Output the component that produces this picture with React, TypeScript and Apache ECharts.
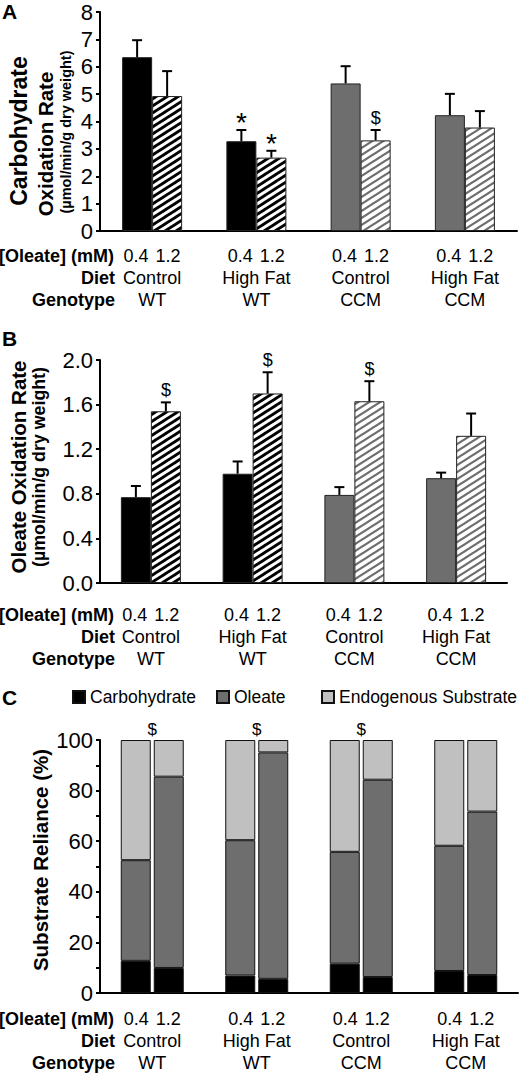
import React, { useEffect, useRef } from "react";
import * as echarts from "echarts";

const FONT = "'Liberation Sans', Arial, Helvetica, sans-serif";

// Categories
const oleateConc = ["0.4", "1.2"];
const diets = ["Control", "High Fat", "Control", "High Fat"];
const genotypes = ["WT", "WT", "CCM", "CCM"];
const groupKeys = ["Control WT", "High Fat WT", "Control CCM", "High Fat CCM"];

// Panel A: carbohydrate oxidation rate (µmol/min/g dry weight)
const carbMean04 = [6.35, 3.28, 5.39, 4.23];
const carbErr04 = [0.62, 0.41, 0.63, 0.78];
const carbMean12 = [4.93, 2.68, 3.31, 3.78];
const carbErr12 = [0.91, 0.25, 0.38, 0.6];
const carbSig04 = ["", "*", "", ""];
const carbSig12 = ["", "*", "$", ""];
const carbTicks = [0, 8, 1];

// Panel B: oleate oxidation rate
const oleMean04 = [0.77, 0.98, 0.79, 0.94];
const oleErr04 = [0.1, 0.11, 0.07, 0.05];
const oleMean12 = [1.54, 1.7, 1.63, 1.32];
const oleErr12 = [0.08, 0.19, 0.18, 0.2];
const oleSig04 = ["", "", "", ""];
const oleSig12 = ["$", "$", "$", ""];
const oleTicks = [0, 2, 0.4];

// Panel C: substrate reliance (%)
const substrates = ["Carbohydrate", "Oleate", "Endogenous Substrate"];
const relCarb04 = [12.7, 6.9, 11.6, 8.7];
const relOle04 = [39.8, 53.5, 44.2, 49.5];
const relEndo04 = [47.5, 39.6, 44.2, 41.8];
const relCarb12 = [9.9, 5.6, 6.3, 7.1];
const relOle12 = [75.6, 89.5, 78.0, 64.6];
const relEndo12 = [14.5, 4.9, 15.7, 28.3];
const relSig = ["$", "$", "$", ""];
const relTicks = [0, 100, 10];

const BAR_W = 30;
const WT_COLOR = "#000000";
const CCM_COLOR = "#6e6e6e";
const SUB_COLORS = ["#000000", "#6e6e6e", "#c0c0c0"];

function makeHatch(stripe: string, lw: number) {
  const w = 11;
  const h = 7;
  const c = document.createElement("canvas");
  c.width = w;
  c.height = h;
  const ctx = c.getContext("2d")!;
  ctx.fillStyle = "#ffffff";
  ctx.fillRect(0, 0, w, h);
  ctx.strokeStyle = stripe;
  ctx.lineWidth = lw;
  for (let n = -1; n <= 1; n++) {
    ctx.beginPath();
    ctx.moveTo(-2, h + n * h + (2 * h) / w);
    ctx.lineTo(w + 2, n * h - (2 * h) / w);
    ctx.stroke();
  }
  return { image: c, repeat: "repeat" };
}

function App() {
  const ref = useRef<HTMLDivElement>(null);

  useEffect(() => {
    document.body.style.margin = "0";
    const chart = echarts.init(ref.current!, null, { renderer: "svg" });

    const hatchBlack = makeHatch("#000000", 2.8);
    const hatchGray = makeHatch("#6e6e6e", 2.2);

    const solid = (i: number) => (genotypes[i] === "WT" ? WT_COLOR : CCM_COLOR);
    const hatch = (i: number) => (genotypes[i] === "WT" ? hatchBlack : hatchGray);

    const catLabel = (margin: number) => ({
      interval: 0,
      margin,
      color: "#000",
      fontFamily: FONT,
      formatter: (_v: string, idx: number) =>
        `{n|${oleateConc[0]}}{g|}{n|${oleateConc[1]}}\n{t|${diets[idx]}}\n{t|${genotypes[idx]}}`,
      rich: {
        n: { fontSize: 18, lineHeight: 22, fontFamily: FONT, color: "#000" },
        g: { width: 7 },
        t: { fontSize: 18, lineHeight: 22, fontFamily: FONT, color: "#000" },
      },
    });

    const xAx = (gridIndex: number, margin: number) => ({
      type: "category",
      gridIndex,
      data: groupKeys,
      axisLine: { show: true, lineStyle: { color: "#000", width: 2 } },
      axisTick: { show: false },
      axisLabel: catLabel(margin),
    });

    const yAx = (gridIndex: number, t: number[], fmt: (v: number) => string) => ({
      type: "value",
      gridIndex,
      min: t[0],
      max: t[1],
      interval: t[2],
      axisLine: { show: true, lineStyle: { color: "#000", width: 2 } },
      axisTick: { show: true, length: 4, lineStyle: { color: "#000", width: 2 } },
      splitLine: { show: false },
      axisLabel: { fontSize: 22, color: "#000", fontFamily: FONT, margin: 7, formatter: fmt },
    });

    const errSeries = (
      axis: number,
      means: number[],
      errs: number[],
      sigs: string[],
      offset: number
    ) => ({
      type: "custom",
      xAxisIndex: axis,
      yAxisIndex: axis,
      coordinateSystem: "cartesian2d",
      encode: { x: 0, y: 1 },
      z: 5,
      data: means.map((m, i) => [i, m, errs[i]]),
      renderItem: (params: any, api: any) => {
        const i = api.value(0);
        const v = api.value(1);
        const e = api.value(2);
        const b = api.coord([i, v]);
        const t = api.coord([i, v + e]);
        const x = b[0] + offset;
        const sig = sigs[params.dataIndex];
        const children: any[] = [
          { type: "line", shape: { x1: x, y1: b[1], x2: x, y2: t[1] }, style: { stroke: "#000", lineWidth: 2 } },
          { type: "line", shape: { x1: x - 5, y1: t[1], x2: x + 5, y2: t[1] }, style: { stroke: "#000", lineWidth: 2 } },
        ];
        if (sig) {
          const star = sig === "*";
          children.push({
            type: "text",
            x,
            y: star ? t[1] + 7 : t[1] - 3,
            style: {
              text: sig,
              fontSize: star ? 28 : 18,
              fontFamily: FONT,
              fill: "#000",
              align: "center",
              verticalAlign: "bottom",
              textAlign: "center",
              textVerticalAlign: "bottom",
            },
          });
        }
        return { type: "group", children };
      },
    });

    const barPair = (axis: number, m04: number[], m12: number[]) => [
      {
        type: "bar",
        name: oleateConc[0],
        xAxisIndex: axis,
        yAxisIndex: axis,
        barWidth: BAR_W,
        barGap: "0%",
        itemStyle: { borderColor: "#222", borderWidth: 1 },
        data: m04.map((v, i) => ({ value: v, itemStyle: { color: solid(i) } })),
      },
      {
        type: "bar",
        name: oleateConc[1],
        xAxisIndex: axis,
        yAxisIndex: axis,
        barWidth: BAR_W,
        barGap: "0%",
        itemStyle: { borderColor: "#222", borderWidth: 1 },
        data: m12.map((v, i) => ({ value: v, itemStyle: { color: hatch(i) } })),
      },
    ];

    const stackSeries = (stack: string, arrs: number[][]) =>
      arrs.map((arr, k) => ({
        type: "bar",
        name: substrates[k],
        stack,
        xAxisIndex: 2,
        yAxisIndex: 2,
        barWidth: BAR_W,
        barGap: "10%",
        itemStyle: { color: SUB_COLORS[k], borderColor: "#111", borderWidth: 1 },
        data: arr,
      }));

    const txt = (
      text: string,
      x: number,
      y: number,
      size: number,
      bold: boolean,
      align: string,
      rotate = false
    ) => ({
      type: "text",
      x,
      y,
      rotation: rotate ? Math.PI / 2 : 0,
      style: {
        text,
        fontSize: size,
        fontWeight: bold ? "bold" : "normal",
        fontFamily: FONT,
        fill: "#000",
        align,
        verticalAlign: "middle",
        textAlign: align,
        textVerticalAlign: "middle",
      },
    });

    const rowLabels = (ys: number[]) => [
      txt("[Oleate] (mM)", 114, ys[0], 18, true, "right"),
      txt("Diet", 115, ys[1], 18, true, "right"),
      txt("Genotype", 115, ys[2], 18, true, "right"),
    ];

    const legendItem = (name: string, left: number) => ({
      data: [name],
      left,
      top: 683,
      icon: "rect",
      itemWidth: 12,
      itemHeight: 12,
      itemGap: 0,
      textStyle: { fontSize: 17.5, fontFamily: FONT, color: "#000" },
    });

    const option: any = {
      animation: false,
      backgroundColor: "#ffffff",
      textStyle: { fontFamily: FONT },
      grid: [
        { left: 100, right: 3, top: 12, height: 219 },
        { left: 100, right: 13, top: 360, height: 223 },
        { left: 100, right: 2, top: 740, height: 253 },
      ],
      xAxis: [xAx(0, 14), xAx(1, 21), xAx(2, 15)],
      yAxis: [
        yAx(0, carbTicks, (v) => String(v)),
        yAx(1, oleTicks, (v) => v.toFixed(1)),
        yAx(2, relTicks, (v) => (Math.round(v) % 20 === 0 ? String(v) : "")),
      ],
      legend: [
        legendItem(substrates[0], 67),
        legendItem(substrates[1], 211),
        legendItem(substrates[2], 316),
      ],
      series: [
        ...barPair(0, carbMean04, carbMean12),
        errSeries(0, carbMean04, carbErr04, carbSig04, -BAR_W / 2),
        errSeries(0, carbMean12, carbErr12, carbSig12, BAR_W / 2),
        ...barPair(1, oleMean04, oleMean12),
        errSeries(1, oleMean04, oleErr04, oleSig04, -BAR_W / 2),
        errSeries(1, oleMean12, oleErr12, oleSig12, BAR_W / 2),
        ...stackSeries("s04", [relCarb04, relOle04, relEndo04]),
        ...stackSeries("s12", [relCarb12, relOle12, relEndo12]),
        {
          type: "custom",
          xAxisIndex: 2,
          yAxisIndex: 2,
          coordinateSystem: "cartesian2d",
          encode: { x: 0, y: 1 },
          z: 5,
          data: relSig.map((_s, i) => [i, relTicks[1]]),
          renderItem: (params: any, api: any) => {
            const s = relSig[params.dataIndex];
            if (!s) return null;
            const p = api.coord([api.value(0), api.value(1)]);
            return {
              type: "text",
              x: p[0],
              y: p[1] - 2,
              style: {
                text: s,
                fontSize: 17,
                fontFamily: FONT,
                fill: "#000",
                align: "center",
                verticalAlign: "bottom",
                textAlign: "center",
                textVerticalAlign: "bottom",
              },
            };
          },
        },
      ],
      graphic: [
        txt("A", 2, 11, 21, true, "left"),
        txt("B", 2, 338, 21, true, "left"),
        txt("C", 2, 697, 21, true, "left"),
        txt("Carbohydrate", 19, 131, 23, true, "center", true),
        txt("Oxidation Rate", 45, 144, 20.5, true, "center", true),
        txt("(µmol/min/g dry weight)", 66, 132, 14.5, true, "center", true),
        txt("Oleate Oxidation Rate", 18, 467, 20.5, true, "center", true),
        txt("(µmol/min/g dry weight)", 39, 467, 17.8, true, "center", true),
        txt("Substrate Reliance (%)", 40, 860, 20.5, true, "center", true),
        ...rowLabels([256, 278, 300]),
        ...rowLabels([615, 637, 659]),
        ...rowLabels([1019, 1041, 1063]),
      ],
    };

    chart.setOption(option);
    return () => chart.dispose();
  }, []);

  return <div ref={ref} style={{ width: 520, height: 1073 }} />;
}

export default App;
